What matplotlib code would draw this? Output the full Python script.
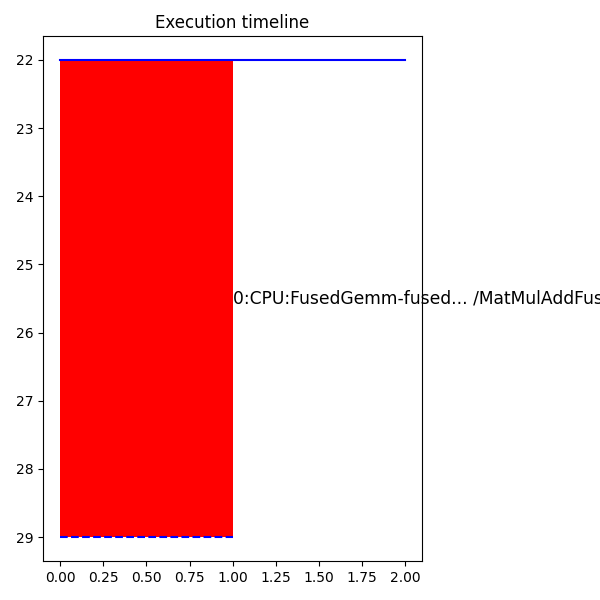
import matplotlib
matplotlib.use("Agg")
import matplotlib.pyplot as plt

starts = [0.0]
ends = [1.0]
row_top = [22]
row_bottom = [29]
labels = ["0:CPU:FusedGemm-fused... /MatMulAddFused_MatMul_Add"]
timeline_end = 2.0

fig = plt.figure(figsize=(6, 6), dpi=100)
ax = fig.add_axes([0.0717, 0.065, 0.632, 0.875])

for s, e, t, b, lab in zip(starts, ends, row_top, row_bottom, labels):
    ax.fill_between([s, e], [t, t], [b, b], color="red", linewidth=0)
    ax.plot([s, e], [b, b], color="blue", linestyle="--")
    ax.text(e, (t + b) / 2, lab, va="center", ha="left", fontsize=12.3, clip_on=False)

ax.plot([starts[0], timeline_end], [row_top[0], row_top[0]], color="blue")
ax.invert_yaxis()
ax.set_title("Execution timeline", fontsize=12)

fig.savefig("out.png", dpi=100)
